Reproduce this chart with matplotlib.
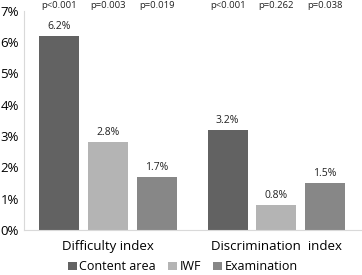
import matplotlib.pyplot as plt
import numpy as np

groups = ["Difficulty index", "Discrimination  index"]
series = ["Content area", "IWF", "Examination"]
values = {
    "Content area": [6.2, 3.2],
    "IWF": [2.8, 0.8],
    "Examination": [1.7, 1.5],
}
pvalues = {
    "Content area": ["p<0.001", "p<0.001"],
    "IWF": ["p=0.003", "p=0.262"],
    "Examination": ["p=0.019", "p=0.038"],
}
colors = ["#626262", "#b4b4b4", "#878787"]

plt.rcParams['font.family'] = ['Open Sans', 'DejaVu Sans']

fig = plt.figure(figsize=(3.62, 2.75), dpi=100)
ax = fig.add_axes([0.066, 0.164, 0.93, 0.797])

x = np.arange(len(groups))
width = 0.237
offsets = [-0.29, 0, 0.29]

for i, s in enumerate(series):
    ax.bar(x + offsets[i], values[s], width, color=colors[i], label=s)
    for xi, v, p in zip(x + offsets[i], values[s], pvalues[s]):
        ax.text(xi, v + 0.12, f"{v:.1f}%", ha="center", va="bottom", fontsize=7.5, color="#222222")
        ax.text(xi, 7.18, p, ha="center", va="center", fontsize=6.8, color="#222222")

ax.set_xlim(-0.5, 1.5)
ax.set_ylim(0, 7)
ax.set_yticks(range(0, 8))
ax.set_yticklabels([f"{t}%" for t in range(0, 8)], fontsize=9.5)
ax.set_xticks(x)
ax.set_xticklabels(groups, fontsize=9.5)
ax.tick_params(length=0)
ax.tick_params(axis="x", pad=7)
for side in ["top", "right"]:
    ax.spines[side].set_visible(False)
ax.spines["left"].set_color("#d9d9d9")
ax.spines["bottom"].set_color("#d9d9d9")

fig.legend(loc="center", bbox_to_anchor=(0.505, 0.03), ncol=3, frameon=False,
           fontsize=9, handlelength=0.7, handleheight=0.7, handletextpad=0.2, columnspacing=1.0)

fig.savefig("out.png", dpi=100)
